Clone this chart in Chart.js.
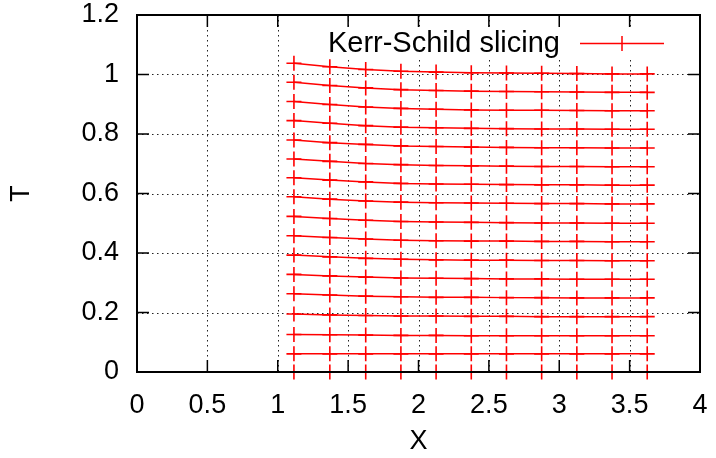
<!DOCTYPE html>
<html>
<head>
<meta charset="utf-8">
<script src="https://cdn.jsdelivr.net/npm/chart.js@4.4.0/dist/chart.umd.min.js"></script>
<style>
  html, body { margin: 0; padding: 0; background: #fff; }
  #wrap { width: 716px; height: 458px; }
</style>
</head>
<body>
<div id="wrap"><canvas id="grafico" width="716" height="458"></canvas></div>
<script>
// tick labels
const X_TICKS = [0, 0.5, 1, 1.5, 2, 2.5, 3, 3.5, 4];
const Y_TICKS = [0, 0.2, 0.4, 0.6, 0.8, 1, 1.2];

// X positions of the markers (shared by every slice)
const X_POS = [1.115, 1.37, 1.625, 1.875, 2.125, 2.375, 2.625, 2.875, 3.125, 3.375, 3.625];

// T of each Kerr-Schild slice, bottom to top
const T_00 = [0, 0, 0, 0, 0, 0, 0, 0, 0, 0, 0];
const T_01 = [0.061, 0.061, 0.061, 0.061, 0.061, 0.061, 0.061, 0.061, 0.061, 0.061, 0.061];
const T_02 = [0.126, 0.125, 0.124, 0.123, 0.123, 0.122, 0.122, 0.122, 0.122, 0.122, 0.122];
const T_03 = [0.195, 0.192, 0.190, 0.188, 0.188, 0.187, 0.187, 0.186, 0.186, 0.186, 0.186];
const T_04 = [0.263, 0.259, 0.255, 0.253, 0.251, 0.251, 0.250, 0.250, 0.249, 0.249, 0.249];
const T_05 = [0.328, 0.323, 0.319, 0.316, 0.315, 0.314, 0.313, 0.313, 0.312, 0.312, 0.312];
const T_06 = [0.393, 0.387, 0.382, 0.379, 0.377, 0.376, 0.376, 0.375, 0.375, 0.374, 0.374];
const T_07 = [0.458, 0.452, 0.447, 0.443, 0.441, 0.440, 0.440, 0.439, 0.439, 0.438, 0.438];
const T_08 = [0.523, 0.516, 0.510, 0.506, 0.504, 0.503, 0.502, 0.501, 0.501, 0.500, 0.500];
const T_09 = [0.589, 0.581, 0.575, 0.571, 0.569, 0.568, 0.567, 0.566, 0.566, 0.565, 0.565];
const T_10 = [0.653, 0.645, 0.639, 0.634, 0.632, 0.631, 0.630, 0.629, 0.629, 0.628, 0.628];
const T_11 = [0.716, 0.708, 0.701, 0.697, 0.694, 0.693, 0.692, 0.691, 0.691, 0.690, 0.690];
const T_12 = [0.780, 0.771, 0.765, 0.760, 0.758, 0.756, 0.755, 0.754, 0.754, 0.753, 0.753];
const T_13 = [0.845, 0.836, 0.828, 0.823, 0.821, 0.819, 0.818, 0.817, 0.817, 0.816, 0.816];
const T_14 = [0.909, 0.899, 0.891, 0.886, 0.883, 0.881, 0.880, 0.880, 0.879, 0.878, 0.878];
const T_15 = [0.974, 0.963, 0.955, 0.949, 0.946, 0.944, 0.943, 0.942, 0.941, 0.940, 0.940];
const T_16 = [1.038, 1.026, 1.017, 1.011, 1.008, 1.006, 1.005, 1.004, 1.003, 1.002, 1.002];

const FATIAS = [T_00, T_01, T_02, T_03, T_04, T_05, T_06, T_07, T_08,
                T_09, T_10, T_11, T_12, T_13, T_14, T_15, T_16];
const LEGENDA = 'Kerr-Schild slicing';

const FONTE = { family: '"Liberation Sans", Arial, sans-serif', size: 27 };
const VERMELHO = '#ff0000';

const datasets = FATIAS.map((serie, i) => ({
  label: LEGENDA,
  data: serie.map((t, j) => ({ x: X_POS[j], y: t })),
  showLine: true,
  borderColor: VERMELHO,
  borderWidth: 1.5,
  pointStyle: 'cross',
  pointRadius: 7.5,
  pointBorderWidth: 1.6,
  pointBorderColor: VERMELHO,
  tension: 0,
  clip: false
}));

// gnuplot look: dotted grid, inward ticks, frame and key
const moldura = {
  id: 'moldura',
  beforeDatasetsDraw(chart) {
    const { ctx, chartArea: a, scales: { x, y } } = chart;
    ctx.save();
    ctx.strokeStyle = '#222';
    ctx.lineWidth = 1;
    ctx.setLineDash([1.5, 3.5]);
    ctx.beginPath();
    X_TICKS.slice(1, -1).forEach(v => {
      const px = Math.round(x.getPixelForValue(v)) + 0.5;
      ctx.moveTo(px, a.top); ctx.lineTo(px, a.bottom);
    });
    Y_TICKS.slice(1, -1).forEach(v => {
      const py = Math.round(y.getPixelForValue(v)) + 0.5;
      ctx.moveTo(a.left, py); ctx.lineTo(a.right, py);
    });
    ctx.stroke();
    ctx.setLineDash([]);
    // key area hides the grid
    ctx.fillStyle = '#fff';
    ctx.fillRect(315, 28, a.right - 316, 30);
    ctx.restore();
  },
  afterDatasetsDraw(chart) {
    const { ctx, chartArea: a, scales: { x, y } } = chart;
    ctx.save();
    ctx.strokeStyle = '#000';
    ctx.lineWidth = 2;
    ctx.strokeRect(a.left, a.top, a.right - a.left, a.bottom - a.top);
    ctx.lineWidth = 1.5;
    ctx.beginPath();
    X_TICKS.slice(1, -1).forEach(v => {
      const px = x.getPixelForValue(v);
      ctx.moveTo(px, a.bottom); ctx.lineTo(px, a.bottom - 12);
      ctx.moveTo(px, a.top); ctx.lineTo(px, a.top + 12);
    });
    Y_TICKS.slice(1, -1).forEach(v => {
      const py = y.getPixelForValue(v);
      ctx.moveTo(a.left, py); ctx.lineTo(a.left + 12, py);
      ctx.moveTo(a.right, py); ctx.lineTo(a.right - 12, py);
    });
    ctx.stroke();

    // key
    ctx.font = '29px ' + FONTE.family;
    ctx.fillStyle = '#000';
    ctx.textAlign = 'right';
    ctx.textBaseline = 'middle';
    ctx.fillText(LEGENDA, 560, 44);
    ctx.strokeStyle = VERMELHO;
    ctx.lineWidth = 1.5;
    ctx.beginPath();
    ctx.moveTo(580, 43.5); ctx.lineTo(664, 43.5);
    ctx.moveTo(614.5, 43.5); ctx.lineTo(629.5, 43.5);
    ctx.moveTo(622, 36); ctx.lineTo(622, 51);
    ctx.stroke();
    ctx.restore();
  }
};

new Chart(document.getElementById('grafico'), {
  type: 'scatter',
  data: { datasets },
  options: {
    responsive: false,
    animation: false,
    layout: { padding: { top: 15, right: 16, left: 0, bottom: 0 } },
    plugins: { legend: { display: false }, tooltip: { enabled: false } },
    scales: {
      x: {
        type: 'linear', min: 0, max: 4,
        afterBuildTicks: s => { s.ticks = X_TICKS.map(v => ({ value: v })); },
        afterFit: s => { s.height = 86; s.paddingLeft = 0; s.paddingRight = 0; },
        grid: { display: false, drawTicks: false },
        border: { display: false },
        ticks: { font: FONTE, color: '#000', padding: 17, maxRotation: 0, autoSkip: false,
                 callback: v => String(v) },
        title: { display: true, text: 'X', font: FONTE, color: '#000', padding: { top: 0, bottom: 0 } }
      },
      y: {
        type: 'linear', min: 0, max: 1.2,
        afterBuildTicks: s => { s.ticks = Y_TICKS.map(v => ({ value: v })); },
        afterFit: s => { s.width = 137; s.paddingTop = 0; s.paddingBottom = 0; },
        grid: { display: false, drawTicks: false },
        border: { display: false },
        ticks: { font: FONTE, color: '#000', padding: 18, autoSkip: false,
                 callback: v => String(v) },
        title: { display: true, text: 'T', font: FONTE, color: '#000', padding: { top: 5, bottom: 0 } }
      }
    }
  },
  plugins: [moldura]
});
</script>
</body>
</html>
